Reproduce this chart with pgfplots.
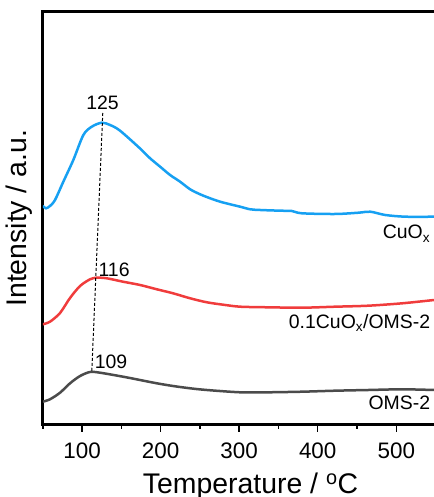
\documentclass[border=0pt]{standalone}
\usepackage{fontspec}
\setmainfont{Liberation Sans}
\usepackage{pgfplots}
\pgfplotsset{compat=1.18}
\definecolor{cblue}{RGB}{22,160,242}
\definecolor{cred}{RGB}{240,60,60}
\definecolor{cgray}{RGB}{75,75,75}
\begin{document}
\begin{tikzpicture}
\begin{axis}[
  name=ax,
  scale only axis,
  width=391.25bp, height=412.5bp,
  xmin=50, xmax=548, ymin=0, ymax=412.5,
  axis x line*=box, axis y line*=left,
  axis line style={line width=3bp, line cap=rect},
  xtick={100,200,300,400,500},
  minor xtick={50,150,250,350,450,550},
  xtick pos=bottom,
  ytick=\empty,
  tick align=outside,
  major tick length=7bp, minor tick length=4bp,
  every tick/.style={black, line width=1.5bp},
  /pgf/number format/assume math mode=true,
  tick label style={font=\fontsize{22.5}{26}\selectfont, inner sep=0pt},
  xticklabel shift=11bp,
  xlabel={Temperature / \textsuperscript{o}C},
  ylabel={Intensity / a.u.},
  label style={font=\fontsize{28.5}{32}\selectfont},
  xlabel style={at={(axis description cs:0.531,-0.168)}, anchor=base, inner sep=0pt},
  ylabel style={at={(axis description cs:-0.0249,0.5)}, anchor=south, rotate=0, inner sep=0pt},
  clip=true,
]
% CuOx
\addplot[cblue, line width=2.5bp, smooth, tension=0.5] coordinates {
(50,218.5)(54.1,216.2)(59.2,218.5)(65.6,224.5)(76.2,242.8)(88.9,264.5)(101.7,289.5)
(112.4,297.8)(125.1,301.8)(135.7,299.5)(148.4,293.8)(173.9,276.0)(186.6,266.2)
(199.4,257.8)(212.1,249.5)(224.8,242.8)(237.6,235.2)(250.3,230.2)(263.1,226.2)
(275.8,222.8)(288.5,220.2)(301.3,217.8)(314.0,215.2)(326.8,214.5)(352.2,213.8)
(367.1,213.5)(379.9,211.2)(422.3,210.5)(452.0,211.8)(466.9,212.8)(486.0,209.5)
(511.5,207.8)(548,207.8)};
% 0.1CuOx/OMS-2
\addplot[cred, line width=2.5bp, smooth, tension=0.5] coordinates {
(50,100.2)(59.2,102.8)(72.0,111.5)(84.7,126.5)(97.5,138.5)(110.2,145.2)(118.7,146.8)
(131.5,146.2)(152.2,142.8)(173.9,139.5)(195.2,135.2)(215.9,131.2)(237.6,126.2)
(258.9,122.2)(279.6,119.8)(301.3,117.8)(336.9,117.2)(380.3,116.8)(422.3,117.8)
(464.3,118.8)(507.6,121.2)(548,124.5)};
% OMS-2
\addplot[cgray, line width=2.5bp, smooth, tension=0.5] coordinates {
(50,22.8)(59.2,25.2)(72.0,31.8)(84.7,41.2)(97.5,48.5)(110.2,52.5)(122.9,51.8)
(152.2,47.8)(173.9,44.5)(195.2,41.2)(215.9,38.5)(237.6,36.2)(258.9,34.5)(301.3,32.2)
(336.9,32.2)(380.3,32.8)(422.3,33.8)(464.3,34.5)(507.6,35.2)(548,34.5)};
% peak shift guide
\addplot[black, line width=1bp, dash pattern=on 3bp off 2bp] coordinates {(126.4,311.5)(112.4,52.8)};
\node[font=\fontsize{19.5}{22}\selectfont, inner sep=0pt] at (axis cs:126.1,321.5) {125};
\node[font=\fontsize{19.5}{22}\selectfont, inner sep=0pt] at (axis cs:140.8,154.8) {116};
\node[font=\fontsize{19.5}{22}\selectfont, inner sep=0pt] at (axis cs:136.9,62.5) {109};
\node[font=\fontsize{19.5}{22}\selectfont, inner sep=0pt, anchor=base east] at (axis cs:543.3,185.5) {CuO\textsubscript{x}};
\node[font=\fontsize{19.5}{22}\selectfont, inner sep=0pt, anchor=base east] at (axis cs:543.3,96.2) {0.1CuO\textsubscript{x}/OMS-2};
\node[font=\fontsize{19.5}{22}\selectfont, inner sep=0pt, anchor=base east] at (axis cs:543.3,15.2) {OMS-2};
\end{axis}
\pgfresetboundingbox
\path[use as bounding box] ([shift={(-42.75bp,-72.5bp)}]ax.south west) rectangle ([shift={(0bp,12bp)}]ax.north east);
\end{tikzpicture}
\end{document}
